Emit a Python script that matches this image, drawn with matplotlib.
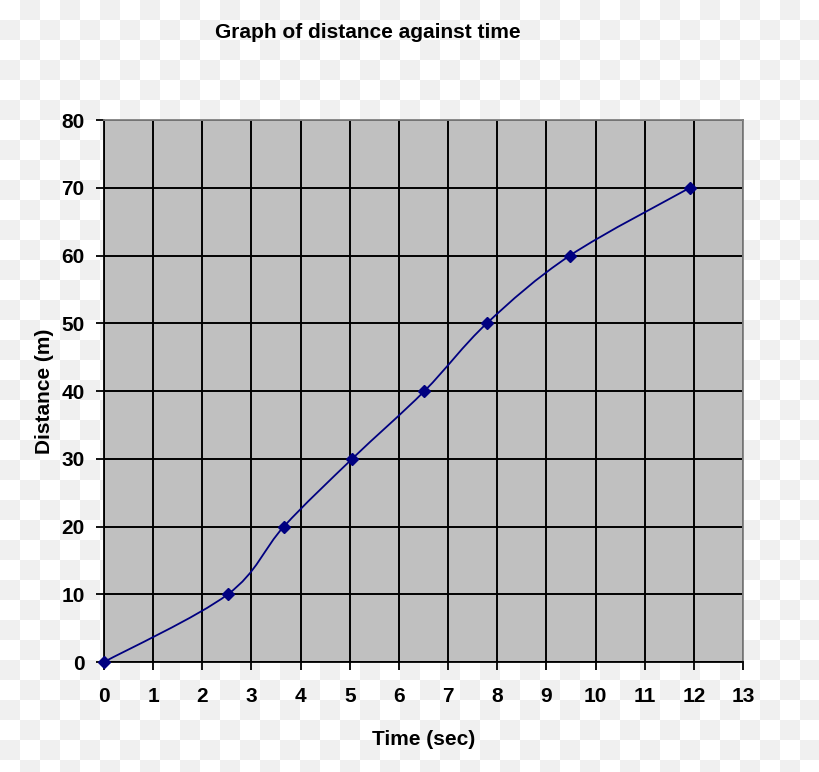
import numpy as np
import matplotlib
matplotlib.use("Agg")
import matplotlib.pyplot as plt
from matplotlib.path import Path
from matplotlib.patches import PathPatch

# Data
time_sec = [0, 2.52, 3.66, 5.05, 6.52, 7.79, 9.48, 11.92]
distance_m = [0, 10, 20, 30, 40, 50, 60, 70]
x_ticks = list(range(0, 14))
y_ticks = list(range(0, 81, 10))

plt.rcParams['font.family'] = ['Liberation Sans', 'DejaVu Sans']
plt.rcParams['font.weight'] = 'bold'

W, H = 820, 772
fig = plt.figure(figsize=(W / 100, H / 100), dpi=100)

# checkerboard background
bg = fig.add_axes([0, 0, 1, 1], zorder=-10)
nx, ny = W // 20 + 1, H // 20 + 1
board = (np.add.outer(np.arange(ny), np.arange(nx)) % 2).astype(float)
bg.imshow(board, cmap=matplotlib.colors.ListedColormap(['#ffffff', '#f0f0f0']),
          extent=[0, nx * 20, ny * 20, 0], interpolation='nearest', aspect='auto')
bg.set_xlim(0, W)
bg.set_ylim(H, 0)
bg.axis('off')

ax = fig.add_axes([104 / W, 1 - 662 / H, 639 / W, 542 / H])
ax.set_facecolor('#c0c0c0')
ax.set_xlim(0, 13)
ax.set_ylim(0, 80)
ax.set_xticks(x_ticks)
ax.set_yticks(y_ticks)
ax.grid(True, color='black', linewidth=1.4)
ax.set_axisbelow(True)
for s in ['top', 'right']:
    ax.spines[s].set_color('#808080')
    ax.spines[s].set_linewidth(1.3)
for s in ['left', 'bottom']:
    ax.spines[s].set_color('black')
    ax.spines[s].set_linewidth(1.3)
ax.tick_params(direction='out', length=6, width=1.3, colors='black', labelsize=15)
ax.tick_params(axis='x', pad=12)
ax.tick_params(axis='y', pad=8)

# smoothed line (Bezier through points)
xs = np.array(time_sec, float)
ys = np.array(distance_m, float)
P = np.column_stack([xs, ys])
n = len(P)
verts = [P[0]]
codes = [Path.MOVETO]
for i in range(n - 1):
    p0 = P[i - 1] if i > 0 else P[i]
    p1 = P[i]
    p2 = P[i + 1]
    p3 = P[i + 2] if i + 2 < n else P[i + 1]
    c1 = p1 + (p2 - p0) / 6
    c2 = p2 - (p3 - p1) / 6
    verts += [c1, c2, p2]
    codes += [Path.CURVE4] * 3
ax.add_patch(PathPatch(Path(verts, codes), facecolor='none', edgecolor='#000080', linewidth=1.3, zorder=3))
ax.plot(xs, ys, linestyle='none', marker='D', markersize=6, color='#000080', zorder=4, clip_on=False)

ax.set_xlabel('Time (sec)', fontsize=15, fontweight='bold', labelpad=17)
ax.set_ylabel('Distance (m)', fontsize=15, fontweight='bold', labelpad=5)
fig.text(368 / W, 1 - 33 / H, 'Graph of distance against time', ha='center', va='center',
         fontsize=15, fontweight='bold')

fig.savefig('out.png', dpi=100)
